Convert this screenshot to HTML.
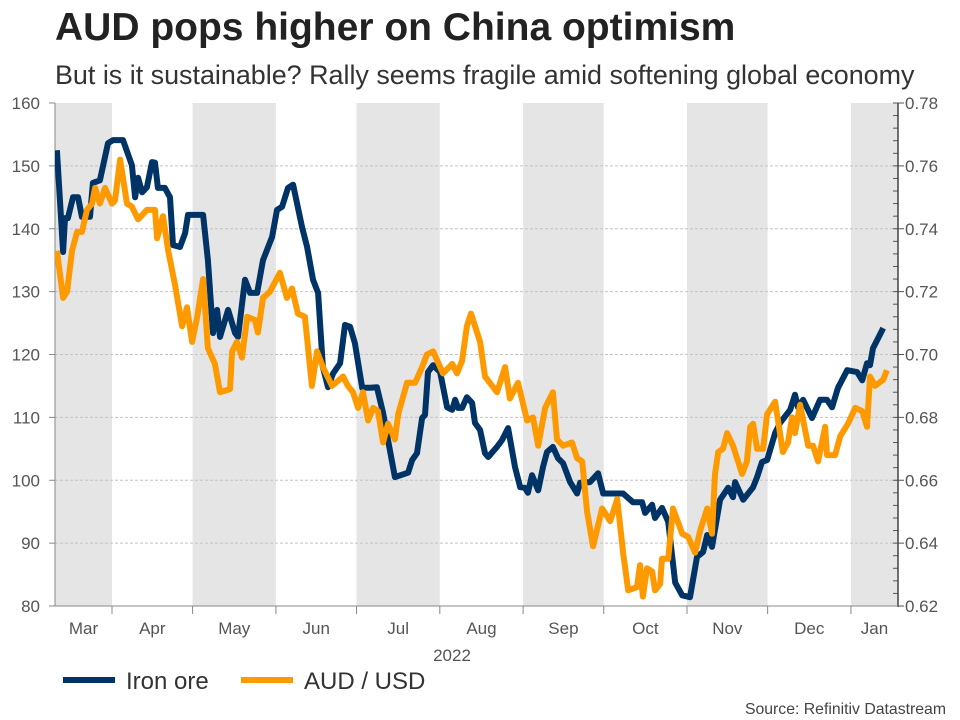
<!DOCTYPE html>
<html><head><meta charset="utf-8">
<style>
body{margin:0;background:#fff;width:960px;height:720px;overflow:hidden;font-family:"Liberation Sans",sans-serif;}
#title{position:absolute;left:55px;top:6px;font-size:39px;font-weight:bold;color:#222;margin:0;white-space:nowrap}
#subtitle{position:absolute;left:55px;top:60px;font-size:26.9px;color:#333;white-space:nowrap}
#chart{position:absolute;left:0;top:0}
</style></head><body>
<h1 id="title">AUD pops higher on China optimism</h1>
<div id="subtitle">But is it sustainable? Rally seems fragile amid softening global economy</div>
<svg id="chart" width="960" height="720" font-family="Liberation Sans, sans-serif"></svg>
<script>
// days since 1 Mar 2022
const ironDays=[10.5,12.8,13.5,14.6,16.5,18.4,19.8,22.8,23.9,26.5,29.5,31.4,35.1,38.4,39.6,40.7,42.2,44,45.9,47,48.1,50.7,52.6,53.7,56.3,58.2,59.3,64.9,66.7,68.6,70.1,71.2,74.2,76.8,77.9,80.5,82.4,85,87.2,90.6,92.4,94.3,96.5,98.4,101.7,103.6,105.8,107.7,109.5,111.4,113.3,115.9,117.7,119.6,121.4,124.1,127,129.6,131.9,133.7,136.3,141.2,142.7,144.5,146.4,147.5,148.6,150.5,153.1,155.7,157.6,158.7,159.8,161.3,163.1,165,166.1,168,169.8,171,174.3,176.2,178.4,181,182.9,184.7,185.8,187.3,189.6,191.4,192.9,195.1,197,198.9,201.5,204.1,205.2,208.9,211.9,213.8,221.2,224.9,228.3,229.4,232,233.1,235.7,238,240.6,243.2,246.1,248.7,251,252.5,254.3,257.3,260.3,262.1,262.9,265.9,269.6,271.1,272.9,274.8,277.8,279.6,283.4,285.2,286.3,288.2,291.5,294.5,297.1,299,301.2,304.6,308.3,310.2,312,313.1,314.2,316.1,318];
const ironValues=[152.5,136.3,141.7,141.7,145,145,141.9,141.9,147.3,147.7,153.6,154.1,154.1,150.1,145,148.1,145.8,146.6,150.6,150.5,146.5,146.5,145,137.4,137.1,139.3,142.2,142.2,135,123.4,127.1,122.8,127.1,123.4,122.8,131.9,129.8,129.8,135,138.7,143,143.5,146.5,147,140.3,137.1,131.9,129.8,118,114.8,117,118.6,124.7,124.4,121.8,114.7,114.7,114.8,110.7,106.4,100.5,101.2,103.2,104.3,109.9,110.4,117.2,118.3,117.2,111.6,111.2,112.8,111.5,111.5,113.2,112.3,109.1,108,104.3,103.7,105.3,106.4,108.3,102.1,98.9,98.8,98,100.8,98.4,102.1,104.5,105.3,103.5,102.7,99.7,97.9,99.6,99.7,101.1,97.9,97.9,96.5,96.5,94.8,96.1,94,95.6,93.4,83.7,81.7,81.4,87.8,88.6,91.3,89.4,96.9,98.8,97.3,99.7,96.9,98.9,100.5,102.9,103.2,107.5,109.1,111.2,113.6,111.6,112.8,109.9,112.8,112.8,111.6,114.7,117.5,117.2,115.9,118.6,118.3,121,122.6,124.2];
const audDays=[10.5,12.8,14.3,16.1,18,19.8,21.7,23.6,24.7,26.5,28.4,31,32.1,34,36.6,38.4,40.7,44,47,47.8,50,51.9,54.5,57.1,58.9,60.8,62.7,64.9,66.7,69.3,71.2,74.9,75.7,77.5,79.4,81.3,84.2,85.3,87.2,89.8,93.5,96.1,98,100.2,102.8,105.4,107.3,109.5,112.9,117,118.8,120.7,122.6,124.4,126.3,128.2,130,131.9,133.7,136.3,137.5,140.8,143.8,146.4,148.2,150.5,154.2,157.6,159.4,161.3,163.1,164.6,168,169.8,174.3,177.3,179.1,182.1,185.5,187.7,189.6,192.2,195.1,196.6,198.9,202.2,204.1,206,207.8,210,213.4,216.4,219,221.2,223.1,226.4,227.5,228.6,230.1,232,233.1,235,235.7,238,239.8,243.2,245.4,248,249.9,252.5,254.3,255.4,256.6,258.4,259.9,262.1,265.5,267.3,268.5,269.6,271.1,273.3,274.8,277.8,280.7,282.6,284.1,285.2,287.1,290.1,291.9,293.8,296.4,297.1,300.1,302,304.9,307.6,310.2,312,313.1,315,318,319.4];
const audValues=[0.733,0.718,0.720,0.733,0.739,0.739,0.746,0.748,0.753,0.748,0.753,0.748,0.749,0.762,0.748,0.747,0.743,0.746,0.746,0.737,0.744,0.733,0.722,0.709,0.715,0.704,0.712,0.724,0.702,0.697,0.688,0.689,0.701,0.704,0.699,0.712,0.711,0.707,0.718,0.720,0.726,0.718,0.721,0.713,0.712,0.690,0.701,0.696,0.690,0.693,0.690,0.688,0.683,0.688,0.679,0.683,0.682,0.672,0.678,0.673,0.681,0.691,0.691,0.696,0.700,0.701,0.694,0.697,0.694,0.698,0.709,0.713,0.704,0.693,0.688,0.696,0.686,0.691,0.679,0.680,0.671,0.683,0.688,0.673,0.671,0.672,0.667,0.666,0.650,0.639,0.651,0.647,0.654,0.637,0.625,0.626,0.633,0.623,0.632,0.631,0.625,0.627,0.635,0.635,0.651,0.643,0.642,0.637,0.644,0.651,0.643,0.662,0.669,0.670,0.675,0.671,0.662,0.666,0.677,0.678,0.670,0.670,0.681,0.685,0.669,0.672,0.680,0.675,0.684,0.671,0.671,0.666,0.677,0.668,0.668,0.674,0.678,0.683,0.682,0.677,0.693,0.690,0.692,0.695];
const monthLabels=["Mar","Apr","May","Jun","Jul","Aug","Sep","Oct","Nov","Dec","Jan"];
const monthStarts=[0,31,61,92,122,153,184,214,245,275,306,337];
const leftTicks=[80,90,100,110,120,130,140,150,160];
const rightTicks=[0.62,0.64,0.66,0.68,0.70,0.72,0.74,0.76,0.78];

const NS="http://www.w3.org/2000/svg";
const svg=document.getElementById('chart');
const X0=55,X1=898,Y0=606,Y1=103;
const xS=d=>28.7+d*2.687;
const yL=v=>Y0-(v-80)/80*(Y0-Y1);
const yR=v=>Y0-(v-0.62)/0.16*(Y0-Y1);
function mk(t,a,parent){const e=document.createElementNS(NS,t);for(const k in a)e.setAttribute(k,a[k]);(parent||svg).appendChild(e);return e;}
const clip=mk('clipPath',{id:'pc'});mk('rect',{x:X0,y:Y1-5,width:X1-X0,height:Y0-Y1+5},clip);

for(let i=0;i<monthLabels.length;i+=2){
  const a=Math.max(X0,xS(monthStarts[i])),b=Math.min(X1,xS(monthStarts[i+1]));
  const r=mk('rect',{x:a,y:Y1,width:b-a,height:Y0-Y1,fill:'#e5e5e5'});
  
  
}
leftTicks.forEach(v=>{
  const y=yL(v);
  if(v>80&&v<160){const g=mk('line',{x1:X0,x2:X1,y1:y,y2:y,stroke:'#c4c4c4','stroke-dasharray':'3,2','stroke-width':1});
  
  }
  mk('line',{x1:X0-6,x2:X0,y1:y,y2:y,stroke:'#888'});
  const t=mk('text',{x:40,y:y+6,'text-anchor':'end','font-size':17,fill:'#555'});t.textContent=v;
  
  
});
rightTicks.forEach(v=>{
  const y=yR(v);
  const t=mk('text',{x:905,y:y+6,'font-size':17,fill:'#555'});t.textContent=v.toFixed(2);
  
  
  mk('line',{x1:X1,x2:X1+6,y1:y,y2:y,stroke:'#555'});
});
for(let v=0.62;v<=0.7801;v+=0.004){const y=yR(v);mk('line',{x1:X1-5,x2:X1,y1:y,y2:y,stroke:'#555'});}
mk('line',{x1:X0,x2:X0,y1:Y1,y2:Y0,stroke:'#888'});
mk('line',{x1:X1,x2:X1,y1:Y1,y2:Y0+1,stroke:'#444','stroke-width':1.5});
mk('line',{x1:X0,x2:X1,y1:Y0,y2:Y0,stroke:'#888'});
monthLabels.forEach((m,i)=>{
  const a=xS(monthStarts[i]),b=xS(monthStarts[i+1]);
  if(a>X0) mk('line',{x1:a,x2:a,y1:Y0,y2:Y0+8,stroke:'#888'});
  const cx=(Math.max(a,X0)+Math.min(b,X1))/2;
  const t=mk('text',{x:cx,y:634,'text-anchor':'middle','font-size':17,fill:'#555'});t.textContent=m;
  
  
});
const yr=mk('text',{x:452,y:661,'text-anchor':'middle','font-size':17,fill:'#555'});yr.textContent='2022';


function line(days,vals,ys,color,name){
  const d=days.map((x,i)=>(i?'L':'M')+xS(x).toFixed(1)+','+ys(vals[i]).toFixed(1)).join('');
  const p=mk('path',{d:d,fill:'none',stroke:color,'stroke-width':6,'stroke-linejoin':'round','clip-path':'url(#pc)'});
  
  
}
line(ironDays,ironValues,yL,'#003366','iron-ore-line');
line(audDays,audValues,yR,'#ff9900','aud-usd-line');
const l1=mk('line',{x1:63,x2:115,y1:680,y2:680,stroke:'#003366','stroke-width':6});


const t1=mk('text',{x:126,y:689,'font-size':24,fill:'#333'});t1.textContent='Iron ore';


const l2=mk('line',{x1:241,x2:293,y1:680,y2:680,stroke:'#ff9900','stroke-width':6});


const t2=mk('text',{x:304,y:689,'font-size':24,fill:'#333'});t2.textContent='AUD / USD';


const src=mk('text',{x:946,y:714,'text-anchor':'end','font-size':15.8,fill:'#444'});src.textContent='Source: Refinitiv Datastream';


</script>
</body></html>
